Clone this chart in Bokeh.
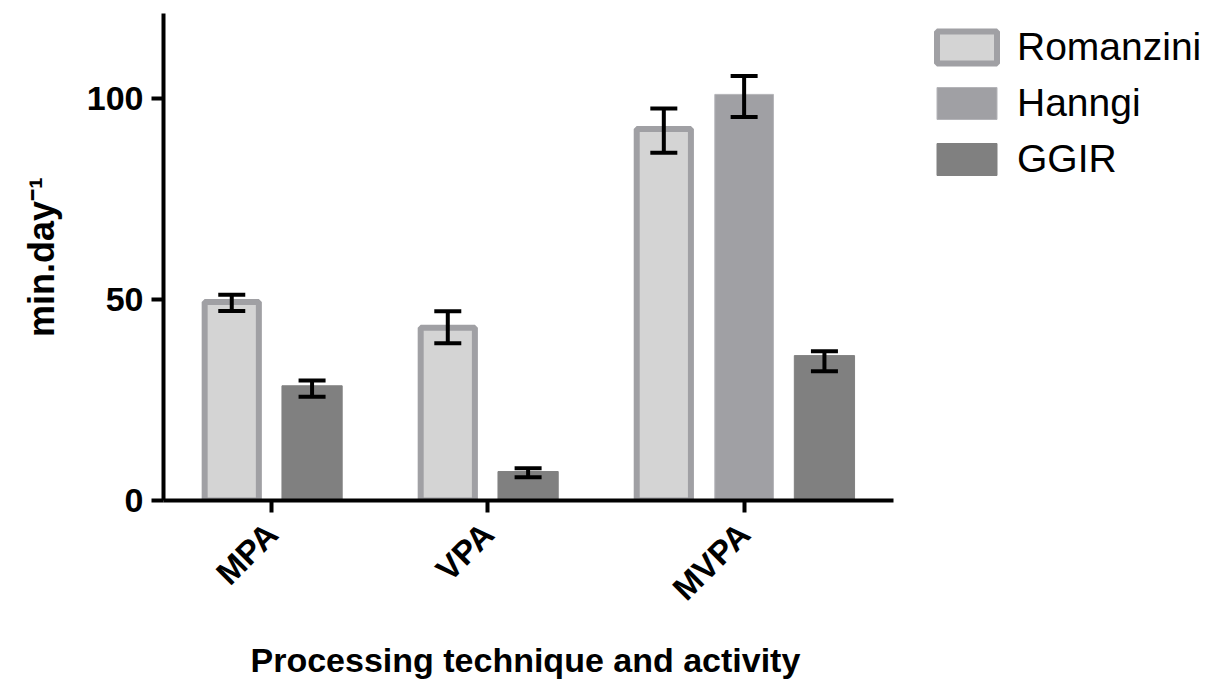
import math
from bokeh.plotting import figure
from bokeh.models import (ColumnDataSource, Range1d, FixedTicker, CustomJSTickFormatter,
                          Whisker, TeeHead, Legend, LegendItem, Title)
from bokeh.embed import file_html
from bokeh.resources import INLINE

# ---- data ----
groups = ["MPA", "VPA", "MVPA"]
series = ["Romanzini", "Hanngi", "GGIR"]
romanzini_mean = [49.3, 42.9, 92.3]
romanzini_low = [47.1, 39.1, 86.4]
romanzini_high = [51.1, 47.0, 97.4]
hanngi_mean = [None, None, 100.9]
hanngi_low = [None, None, 95.3]
hanngi_high = [None, None, 105.5]
ggir_mean = [28.5, 7.2, 36.0]
ggir_low = [25.8, 5.8, 32.1]
ggir_high = [29.8, 8.0, 37.1]
y_ticks = [0, 50, 100]
x_title = "Processing technique and activity"
y_title = "min.day⁻¹"

means = {"Romanzini": romanzini_mean, "Hanngi": hanngi_mean, "GGIR": ggir_mean}
lows = {"Romanzini": romanzini_low, "Hanngi": hanngi_low, "GGIR": ggir_low}
highs = {"Romanzini": romanzini_high, "Hanngi": hanngi_high, "GGIR": ggir_high}

# ---- layout of bars along a numeric axis (slots only for present values) ----
GROUP_GAP = 0.69
cursor = 0.0
data = {s: dict(x=[], top=[], low=[], high=[]) for s in series}
centers = []
for gi, g in enumerate(groups):
    pos = []
    for s in series:
        v = means[s][gi]
        if v is None:
            continue
        data[s]["x"].append(cursor)
        data[s]["top"].append(v)
        data[s]["low"].append(lows[s][gi])
        data[s]["high"].append(highs[s][gi])
        pos.append(cursor)
        cursor += 1
    centers.append(sum(pos) / len(pos))
    cursor += GROUP_GAP
first_x = 0.0
last_x = cursor - GROUP_GAP - 1

# axis spans 730px; frame extends further right to hold the legend
AXIS_PX = 730
FRAME_W = 1041
FRAME_H = 487
axis_start = first_x - 0.85
axis_end = last_x + 0.86
units_per_px = (axis_end - axis_start) / AXIS_PX
range_end = axis_start + FRAME_W * units_per_px

FONT = "Liberation Sans"

p = figure(frame_width=FRAME_W, frame_height=FRAME_H, output_backend="svg", toolbar_location=None,
           x_range=Range1d(axis_start, range_end), y_range=Range1d(0, 121),
           min_border_left=163, min_border_right=0, min_border_top=13, min_border_bottom=180)
p.outline_line_color = None
p.xgrid.visible = False
p.ygrid.visible = False
p.background_fill_color = "white"

styles = {
    "Romanzini": dict(width=0.675, fill_color="#d4d4d4", line_color="#a0a0a4", line_width=6),
    "Hanngi": dict(width=0.73, fill_color="#a0a0a4", line_color="#b4b4b8", line_width=1),
    "GGIR": dict(width=0.75, fill_color="#808080", line_color="#808080", line_width=1),
}

items = []
for s in series:
    src = ColumnDataSource(data[s])
    r = p.vbar(x="x", top="top", bottom=0, source=src, **styles[s])
    items.append(LegendItem(label=s, renderers=[r]))
    w = Whisker(base="x", lower="low", upper="high", source=src, line_color="black", line_width=4,
                upper_head=TeeHead(size=27, line_width=4, line_color="black"),
                lower_head=TeeHead(size=27, line_width=4, line_color="black"),
                level="overlay")
    p.add_layout(w)

# ---- axes ----
for ax in (p.xaxis[0], p.yaxis[0]):
    ax.axis_line_width = 4
    ax.major_tick_line_width = 4
    ax.major_tick_in = 0
    ax.major_tick_out = 12
    ax.minor_tick_line_color = None
    ax.major_label_text_font = FONT
    ax.major_label_text_font_style = "bold"
    ax.axis_label_text_font = FONT
    ax.axis_label_text_font_style = "bold"
    ax.axis_label_text_color = "black"
    ax.major_label_text_color = "black"

p.yaxis.ticker = FixedTicker(ticks=y_ticks)
p.yaxis.major_label_text_font_size = "34px"
p.yaxis.axis_label = y_title
p.yaxis.axis_label_text_font_size = "36px"
p.yaxis.axis_label_standoff = 22
p.yaxis.major_label_standoff = 8

p.xaxis.bounds = (axis_start, axis_end)
p.xaxis.ticker = FixedTicker(ticks=centers)
p.xaxis.formatter = CustomJSTickFormatter(args=dict(pos=centers, names=groups), code="""
let best = 0;
for (let i = 0; i < pos.length; i++) {
  if (Math.abs(pos[i] - tick) < Math.abs(pos[best] - tick)) best = i;
}
return names[best];
""")
p.xaxis.major_label_orientation = math.pi / 4
p.xaxis.major_label_text_font_size = "33px"
p.xaxis.major_label_standoff = 16

# x-axis title placed below, under the axis span (not the whole frame)
xt = Title(text=x_title, align="left", offset=87, standoff=30,
           text_font=FONT, text_font_style="bold", text_font_size="34px", text_color="black")
p.add_layout(xt, "below")

# legend inside the (extended) frame, to the right of the axis span
LEG_LABEL_H = 44
LEG_SPACING = 12
leg_height = 3 * LEG_LABEL_H + 2 * LEG_SPACING
legend = Legend(items=items, location=(766, FRAME_H - 12 - leg_height), orientation="vertical")
legend.label_text_font = FONT
legend.label_text_font_size = "39px"
legend.label_text_color = "black"
legend.glyph_width = 75
legend.glyph_height = 40
legend.label_height = LEG_LABEL_H
legend.spacing = LEG_SPACING
legend.label_standoff = 13
legend.margin = 0
legend.padding = 0
legend.border_line_color = None
legend.background_fill_alpha = 0
p.add_layout(legend)

open("out.html", "w").write(file_html(p, INLINE))
